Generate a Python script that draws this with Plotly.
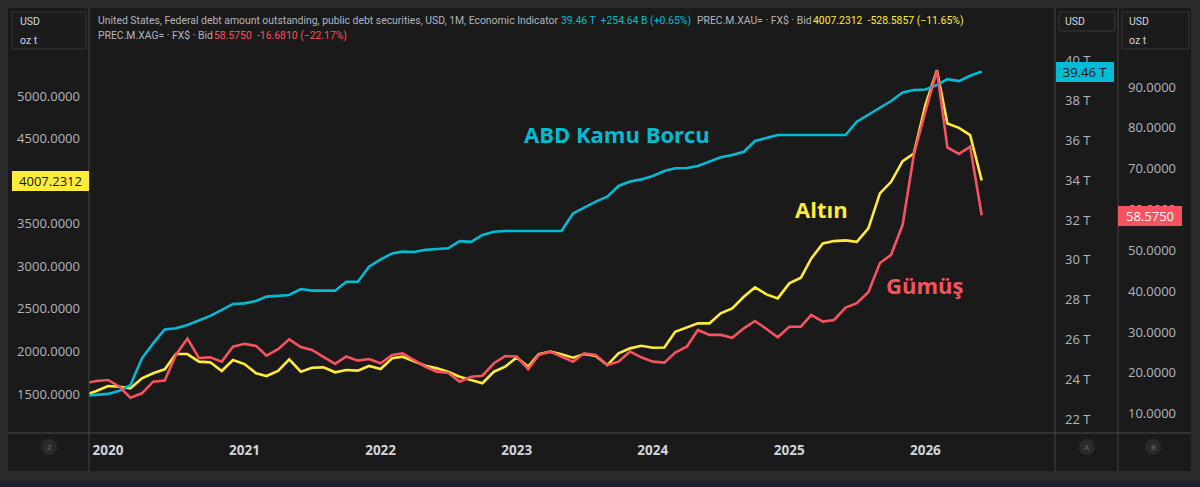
import plotly.graph_objects as go
import pandas as pd

W, H = 1200, 487

# monthly points, Nov 2019 .. Jun 2026
dates = pd.date_range("2019-11-01", "2026-06-01", freq="MS")

debt_t = [23.17, 23.22, 23.26, 23.42, 23.70, 25.05, 25.80, 26.50, 26.56, 26.72,
          26.97, 27.18, 27.48, 27.78, 27.81, 27.93, 28.15, 28.20, 28.23, 28.53,
          28.45, 28.45, 28.45, 28.90, 28.90, 29.65, 30.02, 30.32, 30.41, 30.39,
          30.50, 30.54, 30.58, 30.94, 30.90, 31.25, 31.41, 31.45, 31.45, 31.45,
          31.45, 31.45, 31.45, 32.33, 32.64, 32.92, 33.17, 33.71, 33.93, 34.04,
          34.21, 34.46, 34.60, 34.61, 34.71, 34.93, 35.15, 35.27, 35.43, 35.97,
          36.14, 36.27, 36.27, 36.27, 36.27, 36.27, 36.27, 36.27, 36.94, 37.30,
          37.62, 37.98, 38.41, 38.53, 38.56, 38.78, 39.08, 38.98, 39.25, 39.46]

gold = [1488, 1535, 1594, 1586, 1567, 1684, 1743, 1790, 1969, 1969,
        1880, 1872, 1770, 1899, 1852, 1743, 1711, 1770, 1907, 1762,
        1809, 1813, 1755, 1782, 1774, 1829, 1793, 1919, 1938, 1880,
        1832, 1801, 1762, 1703, 1664, 1626, 1762, 1821, 1930, 1821,
        1969, 1997, 1966, 1927, 1969, 1946, 1840, 1977, 2036, 2067,
        2044, 2047, 2231, 2283, 2330, 2330, 2447, 2505, 2642, 2752,
        2670, 2623, 2799, 2865, 3092, 3269, 3296, 3304, 3288, 3445,
        3856, 3992, 4235, 4325, 4892, 5303, 4677, 4626, 4540, 4007.2312]

silver = [17.45, 18.0, 18.26, 16.6, 13.9, 15.0, 17.85, 18.1, 24.4, 28.4,
          23.6, 23.8, 22.75, 26.4, 27.1, 26.6, 24.2, 25.8, 28.2, 26.3,
          25.6, 24.0, 22.2, 24.0, 23.0, 23.4, 22.35, 24.4, 24.8, 23.1,
          21.5, 20.3, 20.05, 17.85, 19.07, 19.3, 22.35, 24.1, 24.0, 20.9,
          24.4, 25.2, 24.0, 22.75, 24.8, 24.4, 21.9, 22.75, 25.2, 23.8,
          22.75, 22.5, 24.95, 26.4, 30.5, 29.3, 29.3, 28.6, 30.9, 32.7,
          30.75, 28.7, 31.3, 31.3, 34.2, 32.55, 32.95, 36.0, 37.05, 39.75,
          46.9, 48.9, 56.25, 73.4, 84.0, 94.0, 75.2, 73.6, 75.4, 58.575]

gold_ticks = [1500, 2000, 2500, 3000, 3500, 4000, 4500, 5000]
debt_ticks = [22, 24, 26, 28, 30, 32, 34, 36, 38, 40]
silver_ticks = [10, 20, 30, 40, 50, 60, 70, 80, 90]

CYAN = "#00bcd4"
YELLOW = "#ffeb3b"
RED = "#f7525f"
GREY = "#b2b5be"
FONT = "Open Sans"


def X(px):
    return px / W


def Y(py):
    return 1 - py / H


fig = go.Figure()
fig.add_trace(go.Scatter(x=dates, y=debt_t, yaxis="y2", mode="lines",
                         line=dict(color=CYAN, width=2.6)))
fig.add_trace(go.Scatter(x=dates, y=silver, yaxis="y3", mode="lines",
                         line=dict(color=RED, width=2.6)))
fig.add_trace(go.Scatter(x=dates, y=gold, yaxis="y", mode="lines",
                         line=dict(color=YELLOW, width=2.6)))

ydom = [Y(433), Y(8)]
tickfont = dict(family=FONT, size=13, color=GREY)

shapes = [
    dict(type="rect", xref="paper", yref="paper", x0=X(8), x1=X(1191), y0=Y(471), y1=Y(8),
         fillcolor="#1a1a1a", line=dict(width=0), layer="below"),
    dict(type="rect", xref="paper", yref="paper", x0=0, x1=1, y0=Y(487), y1=Y(481),
         fillcolor="#1d2131", line=dict(width=0), layer="below"),
]
for sx in [89, 1055, 1118]:
    shapes.append(dict(type="line", xref="paper", yref="paper", x0=X(sx), x1=X(sx),
                       y0=Y(471), y1=Y(8), line=dict(color="#434343", width=1)))
shapes.append(dict(type="line", xref="paper", yref="paper", x0=X(8), x1=X(1191),
                   y0=Y(433), y1=Y(433), line=dict(color="#4a4a4a", width=1)))
# unit boxes
for bx0, bx1, by1 in [(12, 86, 49), (1059, 1115, 31), (1122, 1189, 49)]:
    shapes.append(dict(type="rect", xref="paper", yref="paper", x0=X(bx0), x1=X(bx1),
                       y0=Y(by1), y1=Y(12), fillcolor="#1c1c1c",
                       line=dict(color="#363636", width=1)))
# scale buttons
for cx in [49, 1087, 1153]:
    shapes.append(dict(type="circle", xref="paper", yref="paper", x0=X(cx - 8), x1=X(cx + 8),
                       y0=Y(455), y1=Y(439), fillcolor="#2a2a2a", line=dict(width=0)))

ann = []


def txt(px, py, text, color=GREY, size=10.4, anchor="left", bold=False, family="Roboto"):
    ann.append(dict(xref="paper", yref="paper", x=X(px), y=Y(py), text=text,
                    showarrow=False, xanchor=anchor, yanchor="middle",
                    font=dict(family=family, size=size, color=color,
                              weight="bold" if bold else "normal")))


# header lines
txt(96, 20.5, "United States, Federal debt amount outstanding, public debt securities, USD, 1M, Economic Indicator")
txt(559, 20.5, "39.46 T  +254.64 B (+0.65%)", color=CYAN)
txt(695, 20.5, "PREC.M.XAU= · FX$ · Bid")
txt(811, 20.5, "4007.2312  -528.5857 (−11.65%)", color=YELLOW)
txt(96, 35.5, "PREC.M.XAG= · FX$ · Bid")
txt(212, 35.5, "58.5750  -16.6810 (−22.17%)", color=RED)

# unit boxes text
for ux, lines in [(18, ["USD", "oz t"]), (1063, ["USD"]), (1127, ["USD", "oz t"])]:
    for i, t in enumerate(lines):
        txt(ux, 21 + 19.5 * i, t, color="#d1d4dc", size=10.5)

# scale buttons letters
for cx, letter in [(49, "Z"), (1087, "A"), (1153, "B")]:
    txt(cx, 447, letter, color="#6b6b6b", size=8, anchor="center")

# series labels on chart
txt(617, 134, "ABD Kamu Borcu", color=CYAN, size=22, anchor="center", bold=True, family=FONT)
txt(821, 209, "Altın", color=YELLOW, size=22, anchor="center", bold=True, family=FONT)
txt(924, 285, "Gümüş", color=RED, size=22, anchor="center", bold=True, family=FONT)

# last price labels
for cx, cy, w, t, bg, fg in [(50.5, 180.7, 77, "4007.2312", YELLOW, "#131722"),
                             (1085, 72, 58, "39.46 T", CYAN, "#131722"),
                             (1150.3, 215.7, 64, "58.5750", RED, "#ffffff")]:
    ann.append(dict(xref="paper", yref="paper", x=X(cx), y=Y(cy), text=t, showarrow=False,
                    xanchor="center", yanchor="middle", width=w, height=20, bgcolor=bg,
                    borderpad=0, borderwidth=0, align="center",
                    font=dict(family=FONT, size=13, color=fg)))

fig.update_layout(
    template="none",
    width=W, height=H,
    margin=dict(l=0, r=0, t=0, b=0),
    paper_bgcolor="#2a2a2a",
    plot_bgcolor="rgba(0,0,0,0)",
    showlegend=False,
    xaxis=dict(domain=[X(89), X(1055)], anchor="y", type="date",
               range=["2019-11-11", "2026-12-14 14:00"],
               dtick="M12", tick0="2020-01-01", tickformat="%Y",
               showgrid=False, zeroline=False, showline=False, ticks="",
               ticklabelstandoff=7,
               tickfont=dict(family=FONT, size=13.5, color="#d1d4dc", weight="bold")),
    yaxis=dict(domain=ydom, anchor="x", side="left", range=[1041.9, 6033.7],
               tickvals=gold_ticks, ticktext=[f"{v:.4f}" for v in gold_ticks],
               showgrid=False, zeroline=False, showline=False, ticks="",
               ticklabelstandoff=8, tickfont=tickfont),
    yaxis2=dict(domain=ydom, overlaying="y", anchor="free", position=X(1055), side="right",
                range=[21.296, 42.653], tickvals=debt_ticks,
                ticktext=[f"{v} T" for v in debt_ticks],
                showgrid=False, zeroline=False, showline=False, ticks="",
                ticklabelstandoff=9, tickfont=tickfont),
    yaxis3=dict(domain=ydom, overlaying="y", anchor="free", position=X(1118), side="right",
                range=[5.274, 109.34], tickvals=silver_ticks,
                ticktext=[f"{v:.4f}" for v in silver_ticks],
                showgrid=False, zeroline=False, showline=False, ticks="",
                ticklabelstandoff=9, tickfont=tickfont),
    shapes=shapes,
    annotations=ann,
)

# page body: no default margin, same frame colour around the figure
fig.write_html("out.html",
               config={"displayModeBar": False},
               post_script="document.body.style.margin='0';"
                           "document.body.style.background='#2a2a2a';")
